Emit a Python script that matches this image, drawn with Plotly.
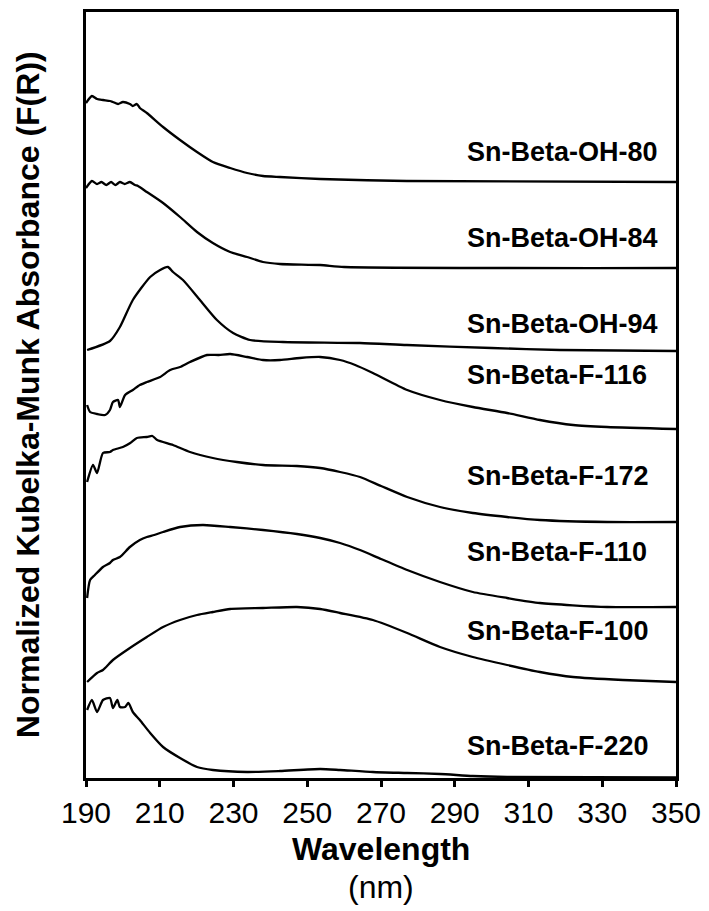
import plotly.graph_objects as go

# ---- data (stacked, arbitrary units) ----
labels = ["Sn-Beta-OH-80", "Sn-Beta-OH-84", "Sn-Beta-OH-94", "Sn-Beta-F-116",
          "Sn-Beta-F-172", "Sn-Beta-F-110", "Sn-Beta-F-100", "Sn-Beta-F-220"]

wl_oh80 = [190, 191.6, 193, 194.6, 196.5, 197.3, 198.7, 200, 201.9, 202.7, 203.8, 204.6, 206.5,
           210.9, 215.5, 220.1, 224.4, 229.1, 233.7, 238, 242.6, 253.5, 277, 350]
y_oh80 = [675, 682, 679, 678, 677, 676, 674, 676, 674, 672, 674, 670, 665,
          651, 638, 626, 616, 610, 605, 602, 601, 599, 597, 596]

wl_oh84 = [190, 191.6, 193, 194.2, 195.5, 196.8, 198, 199.2, 200.5, 201.9, 203.3, 204.1, 206.5,
           210.9, 215.5, 220.1, 224.4, 229.1, 233.7, 238, 242.6, 253.5, 260, 350]
y_oh84 = [590, 597, 594, 596, 593, 596, 593, 596, 594, 596, 593, 592, 586,
          575, 561, 546, 535, 526, 521, 516, 514, 513, 511, 510]

wl_oh94 = [190.3, 196.5, 199.2, 202.7, 207.4, 210.1, 212.2, 213.6, 216.3, 220.9, 225.5,
           229.9, 234.5, 243.4, 264.3, 277, 300, 318.5, 350]
y_oh94 = [428, 437, 451, 478, 501, 508, 511, 506, 498, 478, 458,
          445, 438, 436, 435, 433, 430, 428, 427]

wl_f116 = [190.3, 191.1, 193, 195.2, 196.5, 197.3, 198.7, 199.2, 200.6, 202.7, 204.6, 206.5,
           210.1, 212.8, 215.5, 218.2, 222.8, 226, 229.1, 233.7, 238, 242.6, 248, 253.5,
           258.9, 263, 267.8, 277.1, 286, 294.9, 304.2, 313.1, 322.1, 331.3, 350]
y_f116 = [373, 366, 364, 363, 368, 376, 378, 371, 383, 388, 393, 396,
          401, 408, 411, 416, 423, 423, 424, 421, 418, 418, 420, 421,
          418, 413, 405, 388, 378, 371, 365, 358, 353, 351, 349]

wl_f172 = [190.3, 191.9, 193, 194.6, 196.5, 197.3, 200, 202, 203.8, 206.5, 208, 209.3,
           213.6, 218.2, 224.4, 230.9, 238, 247.2, 253.5, 258.9, 264.3, 270, 277.1, 286,
           294.9, 304.2, 313.1, 331.3, 350]
y_f172 = [296, 313, 305, 325, 326, 328, 331, 335, 340, 341, 342, 338,
          333, 326, 320, 316, 313, 312, 310, 306, 301, 292, 281, 271,
          265, 261, 258, 256, 256]

wl_f110 = [190.3, 191.1, 192.4, 194.6, 196.5, 197.3, 199.2, 201.9, 204.6, 206.5, 208.5,
           210.9, 215.5, 221.7, 229.1, 238, 247.2, 253.5, 258.9, 264.3, 270, 277.1,
           286, 294.9, 304.2, 313.1, 331.3, 350]
y_f110 = [180, 198, 203, 211, 215, 218, 221, 231, 238, 241, 243,
          246, 251, 253, 251, 248, 244, 240, 235, 228, 219, 208,
          196, 186, 180, 175, 171, 171]

wl_f100 = [190.3, 193, 194.6, 197.3, 201.9, 206.5, 210.9, 215.5, 220.1, 224.4, 229.1,
           238, 247.2, 253.5, 258.9, 267.8, 277.1, 286, 294.9, 304.2, 313.1, 322.1,
           335.6, 350]
y_f100 = [96, 105, 108, 118, 130, 141, 151, 158, 163, 166, 169,
          170, 171, 169, 165, 158, 145, 131, 121, 113, 106, 101,
          98, 96]

wl_f220 = [190.3, 191.6, 193, 194.6, 196.5, 197.3, 198.5, 199.2, 200.6, 201.5, 202.7,
           204.6, 207.4, 210.9, 215.5, 220.1, 224.4, 233.7, 242.6, 253.5, 258.9,
           267.8, 277.1, 286, 294.9, 304.2, 350]
y_f220 = [68, 78, 66, 78, 80, 70, 78, 71, 71, 75, 66,
          58, 45, 31, 20, 11, 8, 6, 7, 9, 8,
          6, 5, 4, 2, 1, 0.5]

series_wl = [wl_oh80, wl_oh84, wl_oh94, wl_f116, wl_f172, wl_f110, wl_f100, wl_f220]
series_y = [y_oh80, y_oh84, y_oh94, y_f116, y_f172, y_f110, y_f100, y_f220]

label_y = [626, 540, 454, 403, 302, 226, 147, 32]
label_x = 292.8

x_ticks = [190, 210, 230, 250, 270, 290, 310, 330, 350]

FONT = "Liberation Sans, Arial, sans-serif"

fig = go.Figure()
for wl, yv, name in zip(series_wl, series_y, labels):
    fig.add_trace(go.Scatter(x=wl, y=yv, mode="lines", name=name,
                             line=dict(color="black", width=2.3, shape="spline", smoothing=0.6),
                             showlegend=False))

for name, ly in zip(labels, label_y):
    fig.add_annotation(x=label_x, y=ly, xref="x", yref="y", text="<b>%s</b>" % name,
                       showarrow=False, xanchor="left", yanchor="middle",
                       font=dict(family=FONT, size=27, color="black"))

fig.add_annotation(x=-0.098, y=0.5, xref="paper", yref="paper",
                   text="<b>Normalized Kubelka-Munk Absorbance (F(R))</b>", textangle=-90,
                   showarrow=False, xanchor="center", yanchor="middle",
                   font=dict(family=FONT, size=32, color="black"))
fig.add_annotation(x=0.5, y=-0.093, xref="paper", yref="paper",
                   text="<b>Wavelength</b>", showarrow=False, xanchor="center", yanchor="middle",
                   font=dict(family=FONT, size=32, color="black"))
fig.add_annotation(x=0.5, y=-0.142, xref="paper", yref="paper",
                   text="(nm)", showarrow=False, xanchor="center", yanchor="middle",
                   font=dict(family=FONT, size=32, color="black"))

fig.update_xaxes(range=[190, 350], tickvals=x_ticks, ticktext=[str(t) for t in x_ticks],
                 ticks="outside", ticklen=6, tickwidth=3, tickcolor="black",
                 showline=True, linewidth=3, linecolor="black", mirror=True,
                 showgrid=False, zeroline=False, automargin=False,
                 tickfont=dict(family=FONT, size=30, color="black"))
fig.update_yaxes(range=[0, 766], showticklabels=False, ticks="",
                 showline=True, linewidth=3, linecolor="black", mirror=True,
                 showgrid=False, zeroline=False, automargin=False)

# page body has an 8px margin, so the figure is offset by 8px right and down
fig.update_layout(width=709, height=911, margin=dict(l=78, r=41, t=4, b=141),
                  plot_bgcolor="white", paper_bgcolor="white")

fig.write_html("out.html")
